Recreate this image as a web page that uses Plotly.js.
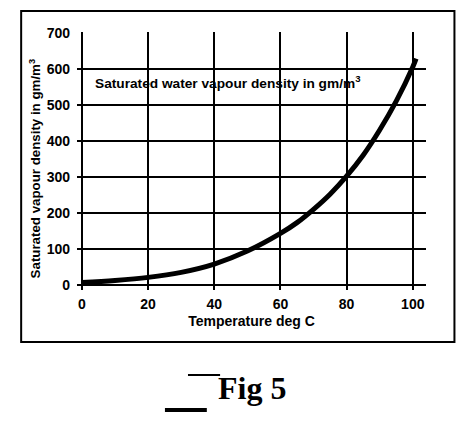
<!DOCTYPE html>
<html>
<head>
<meta charset="utf-8">
<script src="https://cdn.plot.ly/plotly-3.0.1.min.js"></script>
<style>html,body{margin:0;padding:0;background:#fff;}#chart{width:464px;height:428px;}</style>
</head>
<body>
<div id="chart"></div>
<script>
const temperature = [0, 10, 20, 30, 40, 50, 60, 65, 70, 75, 80, 85, 90, 95, 100, 101];
const density = [7, 12.5, 21, 35, 58, 94, 143, 173, 210, 252, 302, 360, 430, 510, 605, 628];
const xTicks = [0, 20, 40, 60, 80, 100];
const yTicks = [0, 100, 200, 300, 400, 500, 600, 700];

const F = 'Liberation Sans, Arial, sans-serif';
const trace = {
  x: temperature, y: density, type: 'scatter', mode: 'lines',
  line: {color: '#000', width: 5, shape: 'spline', smoothing: 1}, hoverinfo: 'skip'
};
const layout = {
  width: 464, height: 428,
  margin: {l: 77, r: 38, t: 32, b: 138},
  paper_bgcolor: '#fff', plot_bgcolor: '#fff',
  showlegend: false,
  font: {family: F, color: '#000', size: 12, weight: 'bold'},
  xaxis: {
    range: [-1.5, 104], tickvals: xTicks, ticktext: xTicks.map(String),
    showgrid: true, gridcolor: '#000', gridwidth: 2, zeroline: false, showline: false,
    ticks: '', ticklabelstandoff: 4, tickfont: {family: F, size: 14, weight: 'bold'},
    title: {text: 'Temperature deg C', font: {family: F, size: 14, weight: 'bold'}, standoff: 5}
  },
  yaxis: {
    range: [-14, 702], tickvals: yTicks, ticktext: yTicks.map(String),
    showgrid: true, gridcolor: '#000', gridwidth: 2, zeroline: false, showline: false,
    ticks: '', ticklabelstandoff: 6, tickfont: {family: F, size: 14, weight: 'bold'}
  },
  annotations: [
    {xref: 'paper', yref: 'paper', x: -0.12, y: 0.468, xanchor: 'center', yanchor: 'middle',
     textangle: -90, text: 'Saturated vapour density in gm/m<sup>3</sup>', showarrow: false,
     font: {family: F, size: 13.3, weight: 'bold', color: '#000'}},
    {xref: 'paper', yref: 'paper', x: 0.046, y: 0.806, xanchor: 'left', yanchor: 'middle',
     text: 'Saturated water vapour density in gm/m<sup>3</sup>', showarrow: false,
     font: {family: F, size: 13.7, weight: 'bold', color: '#000'}},
    {xref: 'paper', yref: 'paper', x: 0.5, y: -0.38, xanchor: 'center', yanchor: 'middle',
     text: 'Fig 5', showarrow: false,
     font: {family: 'Liberation Serif, Times New Roman, serif', size: 32, weight: 'bold', color: '#000'}}
  ],
  shapes: [
    {type: 'rect', xref: 'paper', yref: 'paper', x0: -0.160, x1: 1.0815, y0: -0.2016, y1: 1.0814,
     line: {color: '#000', width: 2}, fillcolor: 'rgba(0,0,0,0)', layer: 'above'},
    {type: 'line', xref: 'paper', yref: 'paper', x0: 0.318, x1: 0.41, y0: -0.329, y1: -0.329,
     line: {color: '#000', width: 2}},
    {type: 'line', xref: 'paper', yref: 'paper', x0: 0.252, x1: 0.372, y0: -0.465, y1: -0.465,
     line: {color: '#000', width: 4}}
  ]
};
Plotly.newPlot('chart', [trace], layout, {displayModeBar: false, staticPlot: true});
</script>
</body>
</html>
